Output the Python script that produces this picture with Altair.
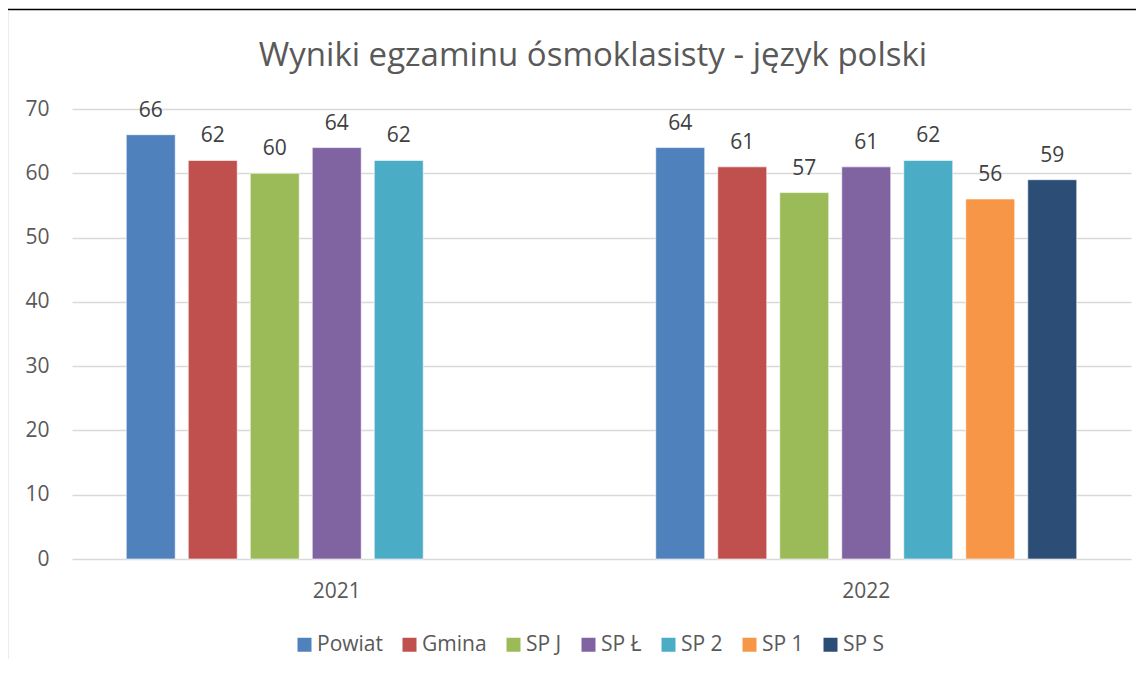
import altair as alt
import pandas as pd

years = ["2021"] * 5 + ["2022"] * 7
schools = ["Powiat", "Gmina", "SP J", "SP Ł", "SP 2",
           "Powiat", "Gmina", "SP J", "SP Ł", "SP 2", "SP 1", "SP S"]
values = [66, 62, 60, 64, 62, 64, 61, 57, 61, 62, 56, 59]
series_order = ["Powiat", "Gmina", "SP J", "SP Ł", "SP 2", "SP 1", "SP S"]
colors = ["#4F81BD", "#C0504D", "#9BBB59", "#8064A2", "#4BACC6", "#F79646", "#2C4D75"]
title_text = ["Wyniki egzaminu ósmoklasisty - język polski"]

df = pd.DataFrame({"Rok": years, "Szkoła": schools, "Wynik": values})

FONT = "Open Sans"
GREY = "#595959"

base = alt.Chart(df).encode(
    x=alt.X("Rok:N", title=None,
            scale=alt.Scale(paddingInner=0, paddingOuter=0),
            axis=alt.Axis(labelAngle=0, labelFontSize=21, labelColor=GREY, labelFont=FONT,
                          ticks=False, domain=False, labelPadding=21)),
    xOffset=alt.XOffset("Szkoła:N", sort=series_order,
                        scale=alt.Scale(domain=series_order, paddingInner=0.21, paddingOuter=0.875)),
    y=alt.Y("Wynik:Q", title=None,
            scale=alt.Scale(domain=[0, 70]),
            axis=alt.Axis(values=[0, 10, 20, 30, 40, 50, 60, 70], labelFontSize=21, labelColor=GREY,
                          labelFont=FONT, ticks=False, domain=False, labelPadding=23,
                          gridColor="#D9D9D9", gridWidth=1.5)),
)

bars = base.mark_bar(stroke="white", strokeOpacity=0.6, strokeWidth=1).encode(
    color=alt.Color("Szkoła:N", sort=series_order,
                    scale=alt.Scale(domain=series_order, range=colors),
                    legend=alt.Legend(title=None, orient="none", direction="horizontal",
                                      legendX=222, legendY=525, symbolType="square",
                                      symbolSize=196, symbolStrokeWidth=0,
                                      labelFontSize=21, labelFont=FONT, labelColor=GREY,
                                      labelOffset=2, columnPadding=16)),
)

labels = base.mark_text(baseline="alphabetic", dy=-18, fontSize=21, color="#404040", font=FONT).encode(
    text="Wynik:Q"
)

frame_df = pd.DataFrame({"k": [0]})
top_line = alt.Chart(frame_df).mark_rule(color="#000000", strokeWidth=1.5).encode(
    x=alt.value(-72), x2=alt.value(1080), y=alt.value(-99.5)
)
left_line = alt.Chart(frame_df).mark_rule(color="#D9D9D9", strokeWidth=1).encode(
    x=alt.value(-64), y=alt.value(-99), y2=alt.value(580)
)

title_df = pd.DataFrame({"t": title_text})
title = alt.Chart(title_df).mark_text(
    fontSize=33, font=FONT, color=GREY, align="center", baseline="alphabetic"
).encode(x=alt.value(521), y=alt.value(-43), text="t:N")

chart = alt.layer(top_line, left_line, title, bars, labels).properties(
    width=1059,
    height=450,
    autosize="none",
    padding={"left": 64, "top": 101, "right": 5, "bottom": 100},
).configure_view(stroke=None)

chart.save("out.html", embed_options={"renderer": "svg", "actions": False})
